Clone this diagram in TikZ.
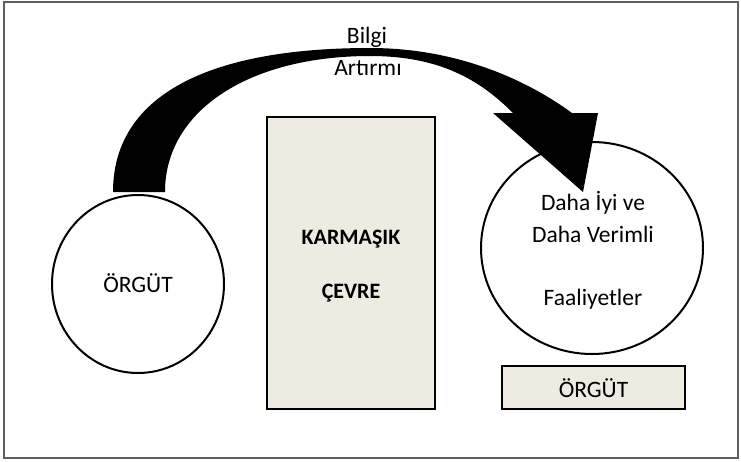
\documentclass[tikz,border=0pt]{standalone}
\usepackage{fontspec}
\setmainfont{Carlito}
\usetikzlibrary{shapes.geometric}

\definecolor{panelfill}{RGB}{238,235,226}
\definecolor{framegray}{RGB}{95,95,95}

\tikzset{
  lbl/.style={font=\fontsize{23.5}{28}\selectfont, inner sep=0pt, anchor=base},
  boldlbl/.style={font=\fontsize{22}{28}\selectfont\bfseries, inner sep=0pt, anchor=base},
  panel/.style={rectangle, draw=black, line width=2.5, fill=panelfill, inner sep=0pt},
  bubble/.style={ellipse, draw=black, line width=2, fill=white, inner sep=0pt},
}

\begin{document}
\begin{tikzpicture}[x=1pt, y=-1pt]
  % canvas and outer frame
  \useasboundingbox (0,0) rectangle (741,461);
  \draw[framegray, line width=1.5] (4,2) rectangle (738,458);

  % left organisation bubble
  \node[bubble, minimum width=172, minimum height=178] (org) at (138,284) {};
  \node[lbl] (orgtext) at (138,292) {ÖRGÜT};

  % complex environment block
  \node[panel, minimum width=168, minimum height=292] (env) at (351,263) {};
  \node[boldlbl] (envtop) at (351,244) {KARMAŞIK};
  \node[boldlbl] (envbot) at (351,298) {ÇEVRE};

  % right bubble with the outcome
  \node[bubble, minimum width=222, minimum height=212] (act) at (592,248) {};
  \node[lbl] (act1) at (593,210) {Daha İyi ve};
  \node[lbl] (act2) at (593,242) {Daha Verimli};
  \node[lbl] (act3) at (593,305) {Faaliyetler};

  % organisation label box under the right bubble
  \node[panel, minimum width=183, minimum height=43] (org2) at (593.5,387.5) {};
  \node[lbl] (org2text) at (593.5,397) {ÖRGÜT};

  % curved block arrow from the left bubble to the right one
  \fill[black]
    (113,192) .. controls (113,100) and (200,48) .. (370,48)
    .. controls (450,48) and (520,75) .. (572,113)
    -- (598,113) -- (583,192) -- (493,113) -- (513,113)
    .. controls (480,80) and (440,56) .. (370,56)
    .. controls (250,56) and (165,110) .. (165,192) -- cycle;

  % arrow caption
  \node[lbl] (cap1) at (367,43) {Bilgi};
  \node[lbl] (cap2) at (368,75) {Artırmı};
\end{tikzpicture}
\end{document}
